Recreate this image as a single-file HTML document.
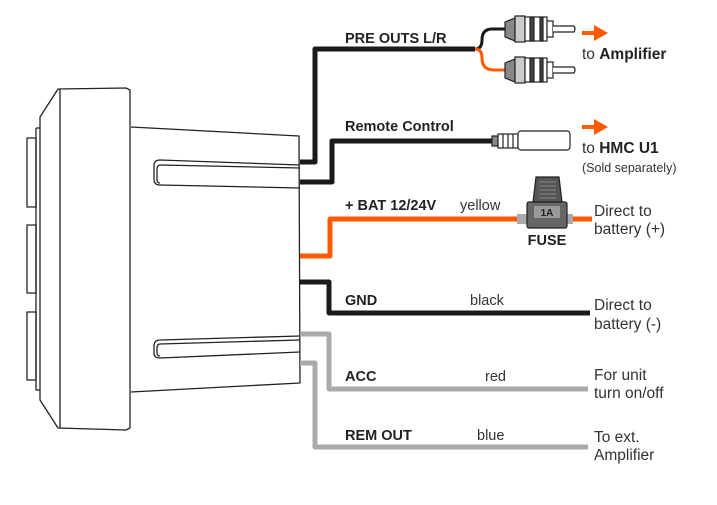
<!DOCTYPE html>
<html><head><meta charset="utf-8"><style>
html,body{margin:0;padding:0;background:#fff;}
svg{display:block;font-family:"Liberation Sans",sans-serif;}
.b{font-weight:bold;font-size:14.5px;fill:#222;}
.n{font-size:14.5px;fill:#333;}
.r{font-size:15.5px;fill:#333;}
</style></head><body>
<svg width="717" height="505" viewBox="0 0 717 505" xmlns="http://www.w3.org/2000/svg">
<g fill="none" stroke="#222" stroke-width="1.3" stroke-linejoin="round">
 <path d="M58,89 L126,88 L130,90 L130,428 L126,430 L58,428 L40,400 L40,117 Z"/>
 <line x1="60" y1="89" x2="60" y2="428"/>
 <path d="M36,128 L40,128 M36,128 L36,390 L40,390"/>
 <rect x="27" y="138" width="9" height="69"/>
 <rect x="27" y="225" width="9" height="68"/>
 <rect x="27" y="312" width="9" height="68"/>
 <path d="M131,127 L299,136 L300,383 L131,392"/>
 <path d="M300,165 L160,160 Q154,160 154,166 L154,179 Q154,185 160,185 L300,188"/>
 <path d="M300,168 L160,165 Q157,165 157,170 L157,180 Q157,183 160,183"/>
 <path d="M300,336 L160,340 Q154,340 154,346 L154,353 Q154,358 160,358 L300,352"/>
 <path d="M300,340 L160,344 Q157,344 157,348 L157,353 Q157,356 160,356"/>
</g>
<g fill="none" stroke-width="5" stroke-linejoin="round">
 <path d="M300,162 L315,162 L315,49 L475,49" stroke="#1a1a1a"/>
 <path d="M475,49 Q482,49 482,40 Q482,29 492,29 L505,29" stroke="#1a1a1a" stroke-width="3"/>
 <path d="M475,49 Q482,49 482,58 Q482,70 494,70 L505,70" stroke="#ff5a00" stroke-width="3"/>
 <path d="M300,182 L332,182 L332,141 L492,141" stroke="#1a1a1a"/>
 <path d="M300,256 L330,256 L330,219 L517,219" stroke="#ff5a00"/>
 <path d="M567,219 L592,219" stroke="#ff5a00"/>
 <path d="M300,282 L329,282 L329,313 L590,313" stroke="#1a1a1a"/>
 <path d="M300,334 L329,334 L329,389 L588,389" stroke="#aaa"/>
 <path d="M300,363 L315,363 L315,447 L588,447" stroke="#aaa"/>
</g>
<g stroke="#222" stroke-width="1.2">
 <g id="rca">
  <path d="M505,22 L515,18 L515,41 L505,37 Z" fill="#888"/>
  <rect x="515" y="16" width="10" height="26" fill="#ccc"/>
  <rect x="525" y="17" width="22" height="24" fill="#fff"/>
  <rect x="530" y="17" width="4" height="24" fill="#444"/>
  <rect x="540" y="17" width="3" height="24" fill="#444"/>
  <rect x="547" y="21" width="6" height="16" fill="#fff"/>
  <path d="M553,26 L574,26 Q576,29 574,32 L553,32" fill="#fff"/>
 </g>
 <use href="#rca" y="41"/>
 <rect x="492" y="136" width="6" height="10" fill="#888"/>
 <rect x="498" y="134" width="20" height="14" fill="#fff"/>
 <line x1="503" y1="134" x2="503" y2="148"/><line x1="508" y1="134" x2="508" y2="148"/><line x1="513" y1="134" x2="513" y2="148"/>
 <rect x="518" y="131" width="52" height="19" rx="3" fill="#fff"/>
 <rect x="517" y="214" width="12" height="10" fill="#aaa" stroke="none"/>
 <rect x="565" y="214" width="8" height="10" fill="#aaa" stroke="none"/>
 <path d="M536,177 L559,177 L562,202 L533,202 Z" fill="#555"/>
 <rect x="527" y="202" width="40" height="26" rx="2" fill="#666"/>
 <rect x="534" y="206" width="26" height="12" fill="#999" stroke="none"/>
</g>
<g stroke="#888" stroke-width="1"><line x1="539" y1="182" x2="556" y2="182"/><line x1="539" y1="186" x2="556" y2="186"/><line x1="539" y1="190" x2="556" y2="190"/><line x1="539" y1="194" x2="556" y2="194"/><line x1="539" y1="198" x2="556" y2="198"/></g>
<text x="547" y="216" font-size="10" font-weight="bold" fill="#222" text-anchor="middle">1A</text>
<g fill="#ff5a00">
 <path d="M582,31 L594,31 L594,25 L608,33 L594,41 L594,35 L582,35 Z"/>
 <path d="M582,125 L594,125 L594,119 L608,127 L594,135 L594,129 L582,129 Z"/>
</g>
<text class="b" x="345" y="43">PRE OUTS L/R</text>
<text class="b" x="345" y="131">Remote Control</text>
<text class="b" x="345" y="210">+ BAT 12/24V</text><text class="n" x="460" y="210">yellow</text>
<text class="b" x="547" y="245" text-anchor="middle">FUSE</text>
<text class="b" x="345" y="305">GND</text><text class="n" x="470" y="305">black</text>
<text class="b" x="345" y="381">ACC</text><text class="n" x="485" y="381">red</text>
<text class="b" x="345" y="440">REM OUT</text><text class="n" x="477" y="440">blue</text>
<text class="r" x="582" y="59">to <tspan font-weight="bold" fill="#222">Amplifier</tspan></text>
<text class="r" x="582" y="153">to <tspan font-weight="bold" fill="#222">HMC U1</tspan></text>
<text x="582" y="172" font-size="12.5" fill="#333">(Sold separately)</text>
<text class="r" x="594" y="216">Direct to</text><text class="r" x="594" y="234">battery (+)</text>
<text class="r" x="594" y="310">Direct to</text><text class="r" x="594" y="329">battery (-)</text>
<text class="r" x="594" y="380">For unit</text><text class="r" x="594" y="398">turn on/off</text>
<text class="r" x="594" y="442">To ext.</text><text class="r" x="594" y="460">Amplifier</text>
</svg>
</body></html>
